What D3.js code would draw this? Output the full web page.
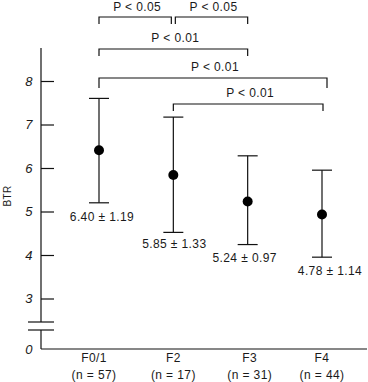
<!DOCTYPE html>
<html>
<head>
<meta charset="utf-8">
<script src="https://cdn.jsdelivr.net/npm/d3@7"></script>
<style>
  body { margin: 0; background: #fff; }
  svg text { font-family: "Liberation Sans", Arial, sans-serif; fill: #1a1a1a; letter-spacing: 0.4px; }
</style>
</head>
<body>
<div id="chart"></div>
<script>
// groups and n
const groups = ["F0/1", "F2", "F3", "F4"];
const groupN = [57, 17, 31, 44];

// values (dot, top cap, bottom cap)
const means = [6.41, 5.84, 5.23, 4.93];
const upper = [7.60, 7.17, 6.28, 5.95];
const lower = [5.20, 4.52, 4.24, 3.95];
const statLabels = ["6.40 ± 1.19", "5.85 ± 1.33", "5.24 ± 0.97", "4.78 ± 1.14"];

// y ticks
const yTicks = [3, 4, 5, 6, 7, 8];

// significance brackets
const bracketFrom = ["F0/1", "F2", "F0/1", "F0/1", "F2"];
const bracketTo   = ["F2", "F3", "F3", "F4", "F4"];
const bracketText = ["P < 0.05", "P < 0.05", "P < 0.01", "P < 0.01", "P < 0.01"];

// ---- layout ----
const W = 368, H = 382;
const axisX = 41, axisTop = 48, zeroY = 349;
const breakTop = 322, breakBot = 330;
// bracket rows: top of bracket and leg length (px)
const bracketRows = [
  { y: 17, leg: 7, dx: [0, -2] },
  { y: 17, leg: 7, dx: [2, 0] },
  { y: 49, leg: 7, dx: [0, 0] },
  { y: 78, leg: 10, dx: [0, 5] },
  { y: 104, leg: 7, dx: [0, 1] }
];
const labelNudge = [[3, 14], [1, 11], [-3, 13], [8, 14]];
const xLabelNudge = [-5, 0, 2, 0];

const svg = d3.select("#chart").append("svg")
  .attr("width", W)
  .attr("height", H);

const x = d3.scalePoint().domain(groups).range([99, 322]);
const y = d3.scaleLinear().domain([3, 8]).range([298.5, 81]);

// y axis: ticks point inward
const yAxis = svg.append("g")
  .attr("transform", `translate(${axisX},0)`)
  .call(d3.axisLeft(y).tickValues(yTicks).tickFormat(d3.format("d"))
    .tickSizeInner(-13).tickSizeOuter(0).tickPadding(8));
yAxis.select(".domain").remove();
yAxis.selectAll(".tick line").attr("stroke", "#111").attr("stroke-width", 1.2);
yAxis.selectAll(".tick text")
  .attr("font-family", "'Liberation Serif', 'Times New Roman', serif")
  .attr("font-style", "italic")
  .attr("font-size", 13)
  .attr("fill", "#1a1a1a");

// axis lines with break
const axisLines = [
  [axisX, axisTop, axisX, breakTop],
  [axisX, breakBot, axisX, zeroY],
  [axisX, zeroY, W - 1, zeroY],
  [28, breakTop, 54, breakTop],
  [28, breakBot, 54, breakBot]
];
svg.append("g").selectAll("line")
  .data(axisLines)
  .join("line")
  .attr("x1", d => d[0]).attr("y1", d => d[1])
  .attr("x2", d => d[2]).attr("y2", d => d[3])
  .attr("stroke", "#111")
  .attr("stroke-width", 1.2);

svg.append("text")
  .attr("x", axisX - 8)
  .attr("y", zeroY)
  .attr("dy", "0.35em")
  .attr("text-anchor", "end")
  .attr("font-family", "'Liberation Serif', 'Times New Roman', serif")
  .attr("font-style", "italic")
  .attr("font-size", 13)
  .text("0");

svg.append("text")
  .attr("transform", "translate(11,196) rotate(-90)")
  .attr("text-anchor", "middle")
  .attr("font-size", 10)
  .text("BTR");

// error bars
const rows = groups.map((g, i) => ({ g, m: means[i], hi: upper[i], lo: lower[i], lab: statLabels[i], i }));
const bars = svg.append("g").selectAll("g").data(rows).join("g");
bars.append("line")
  .attr("x1", d => x(d.g)).attr("x2", d => x(d.g))
  .attr("y1", d => y(d.hi)).attr("y2", d => y(d.lo))
  .attr("stroke", "#111").attr("stroke-width", 1.2);
bars.selectAll(".cap")
  .data(d => [d.hi, d.lo].map(v => ({ g: d.g, v })))
  .join("line")
  .attr("class", "cap")
  .attr("x1", d => x(d.g) - 10).attr("x2", d => x(d.g) + 10)
  .attr("y1", d => y(d.v)).attr("y2", d => y(d.v))
  .attr("stroke", "#111").attr("stroke-width", 1.2);
bars.append("circle")
  .attr("cx", d => x(d.g))
  .attr("cy", d => y(d.m))
  .attr("r", 5)
  .attr("fill", "#000");
bars.append("text")
  .attr("x", d => x(d.g) + labelNudge[d.i][0])
  .attr("y", d => y(d.lo) + labelNudge[d.i][1])
  .attr("dy", "0.35em")
  .attr("text-anchor", "middle")
  .attr("font-size", 12)
  .text(d => d.lab);

// x labels
const xl = svg.append("g").selectAll("g").data(groups).join("g")
  .attr("transform", (d, i) => `translate(${x(d) + xLabelNudge[i]},0)`);
xl.append("text")
  .attr("y", 358).attr("dy", "0.35em")
  .attr("text-anchor", "middle")
  .attr("font-size", 12)
  .text(d => d);
xl.append("text")
  .attr("y", 375).attr("dy", "0.35em")
  .attr("text-anchor", "middle")
  .attr("font-size", 12)
  .text((d, i) => `(n = ${groupN[i]})`);

// brackets
const br = svg.append("g").selectAll("g")
  .data(bracketText.map((t, i) => ({
    t,
    x1: x(bracketFrom[i]) + bracketRows[i].dx[0],
    x2: x(bracketTo[i]) + bracketRows[i].dx[1],
    row: bracketRows[i]
  })))
  .join("g");
br.append("path")
  .attr("d", d => `M${d.x1},${d.row.y + d.row.leg}V${d.row.y}H${d.x2}V${d.row.y + d.row.leg}`)
  .attr("fill", "none")
  .attr("stroke", "#111")
  .attr("stroke-width", 1.2);
br.append("text")
  .attr("x", d => (d.x1 + d.x2) / 2 + 2)
  .attr("y", d => Math.max(d.row.y - 11, 7))
  .attr("dy", "0.35em")
  .attr("text-anchor", "middle")
  .attr("font-size", 12)
  .text(d => d.t);
</script>
</body>
</html>
